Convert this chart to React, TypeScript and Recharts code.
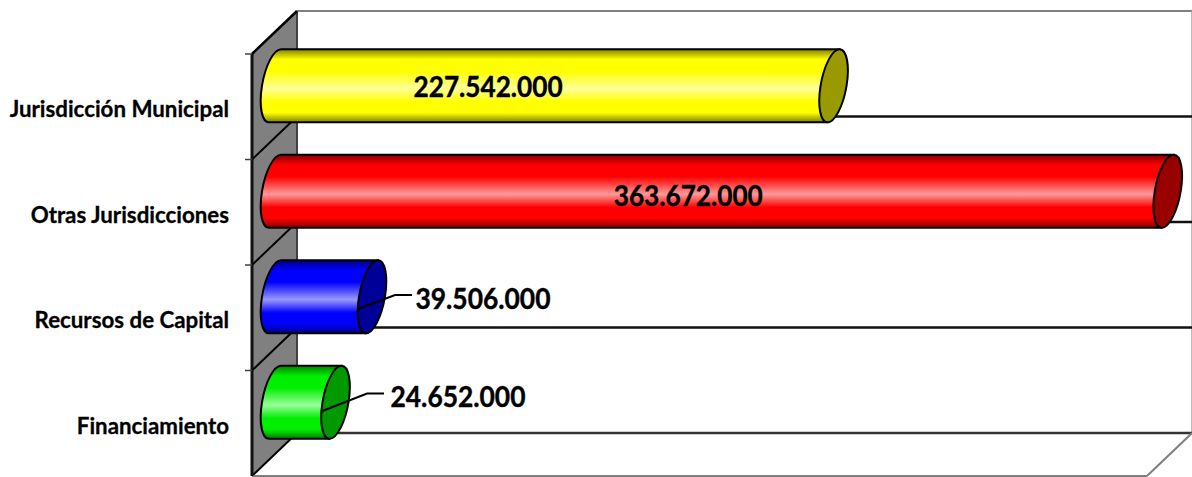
import React from "react";
import { BarChart, Bar, XAxis, YAxis, LabelList } from "recharts";

const CATEGORIES = ["Jurisdicción Municipal", "Otras Jurisdicciones", "Recursos de Capital", "Financiamiento"];
const VALUES = [227542000, 363672000, 39506000, 24652000];
const BASE_COLORS = ["#ffff00", "#ff0000", "#0000ff", "#00ee00"];
const LIGHT_COLORS = ["#ffff99", "#ff9999", "#9999ff", "#99ff99"];
const DARK_COLORS = ["#808000", "#800000", "#000080", "#008000"];
const CAP_COLORS = ["#999900", "#990000", "#000099", "#009900"];

const W = 1192;
const H = 477;
const FONT = "Lato, Carlito, sans-serif";

// mid-depth plane holds the bars, the walls sit half a depth either side
const PLOT = { left: 274.5, top: 32.5, width: 896, height: 422 };
const DX = 22.5;
const DY = 21.5;
const BAR_H = 73;
const CAP_RX = 13;

// where each value text sits, relative to the end of its bar
const LABEL_OFFSETS = [
  [-345, 0.5],
  [-479, 4.5],
  [111.5, 2],
  [123, -6],
];
const LEADERS: (number[][] | null)[] = [
  null,
  null,
  [[-13.5, 13], [23.5, -1], [40.5, -1]],
  [[-14, 10], [32, -8], [49, -8]],
];

const chartData = CATEGORIES.map((name, i) => ({ name, value: VALUES[i] }));

const formatValue = (v: number) => String(v).replace(/\B(?=(\d{3})+$)/g, ".");

function Walls() {
  const fl = PLOT.left - DX;
  const bl = PLOT.left + DX;
  const ft = PLOT.top - DY + DY * 2;
  const fb = PLOT.top + PLOT.height + DY;
  const bt = PLOT.top - DY;
  const bb = PLOT.top + PLOT.height - DY;
  const br = PLOT.left + PLOT.width + DX - 1;
  const fr = PLOT.left + PLOT.width - DX - 1;
  const step = PLOT.height / CATEGORIES.length;
  const rows = CATEGORIES.map((_, i) => i);

  return (
    <g>
      <polygon points={`${fl},${ft} ${bl},${bt} ${bl},${bb} ${fl},${fb}`} fill="#808080" />
      <line x1={bl} y1={bt} x2={bl} y2={bb} stroke="#404040" strokeWidth={2} />
      <line x1={bl} y1={bt} x2={br} y2={bt} stroke="#7f7f7f" strokeWidth={2} />
      <line x1={br} y1={bt} x2={br} y2={bb} stroke="#a6a6a6" strokeWidth={1.5} />
      {rows.slice(1).map((i) => (
        <g key={i}>
          <line x1={bl} y1={bt + i * step} x2={br} y2={bt + i * step} stroke="#111" strokeWidth={2.5} />
          <line x1={fl} y1={ft + i * step} x2={bl} y2={bt + i * step} stroke="#000" strokeWidth={2} />
        </g>
      ))}
      <line x1={bl} y1={bb} x2={br} y2={bb} stroke="#333" strokeWidth={2.5} />
      <line x1={fl} y1={fb} x2={bl} y2={bb} stroke="#000" strokeWidth={2} />
      <line x1={fl} y1={fb} x2={fr} y2={fb} stroke="#7f7f7f" strokeWidth={2} />
      <line x1={fr} y1={fb} x2={br} y2={bb} stroke="#7f7f7f" strokeWidth={2} />
      <line x1={fl} y1={ft} x2={bl} y2={bt} stroke="#000" strokeWidth={2.5} />
      <line x1={fl} y1={ft} x2={fl} y2={fb} stroke="#111" strokeWidth={3} />
      {rows.map((i) => (
        <line key={i} x1={fl - 7} y1={ft + i * step} x2={fl} y2={ft + i * step} stroke="#404040" strokeWidth={1.5} />
      ))}
    </g>
  );
}

function Cylinder(props: any) {
  const { x, y, width, height, index } = props;
  const ry = height / 2;
  return (
    <g transform={`translate(${x + 0.5},${y + ry + 0.75}) skewX(-9.3)`}>
      <path
        d={`M0,${-ry} L${width},${-ry} L${width},${ry} L0,${ry} A${CAP_RX},${ry} 0 0 1 0,${-ry} Z`}
        fill={`url(#cyl${index})`}
        stroke="#000"
        strokeWidth={2}
      />
      <ellipse cx={width} cy={0} rx={CAP_RX} ry={ry} fill={CAP_COLORS[index]} stroke="#000" strokeWidth={2} />
    </g>
  );
}

function ValueLabel(props: any) {
  const { x, y, width, height, index, value } = props;
  const endX = x + width;
  const midY = y + height / 2;
  const leader = LEADERS[index];
  return (
    <g>
      {leader && (
        <polyline
          points={leader.map((p) => `${endX + p[0]},${midY + p[1]}`).join(" ")}
          fill="none"
          stroke="#000"
          strokeWidth={2}
        />
      )}
      <text
        x={endX + LABEL_OFFSETS[index][0]}
        y={midY + LABEL_OFFSETS[index][1]}
        textAnchor="middle"
        dominantBaseline="central"
        fontFamily={FONT}
        fontWeight={700}
        fontSize={28}
        fill="#000"
        stroke="#000"
        strokeWidth={0.4}
        textLength={index < 2 ? 149 : 135}
        lengthAdjust="spacingAndGlyphs"
      >
        {formatValue(value)}
      </text>
    </g>
  );
}

function CategoryTick(props: any) {
  const { x, y, payload } = props;
  return (
    <text
      x={x - 45.5}
      y={y + 23.5}
      textAnchor="end"
      dominantBaseline="central"
      fontFamily={FONT}
      fontWeight={700}
      fontSize={22.3}
      fill="#000"
      stroke="#000"
      strokeWidth={0.3}
    >
      {payload.value}
    </text>
  );
}

export default function App() {
  return (
    <div style={{ position: "absolute", left: 0, top: 0, width: W, height: H, background: "#fff" }}>
      <BarChart
        width={W}
        height={H}
        data={chartData}
        layout="vertical"
        barCategoryGap={0}
        margin={{
          top: PLOT.top,
          left: PLOT.left - 200,
          right: W - PLOT.left - PLOT.width,
          bottom: H - PLOT.top - PLOT.height,
        }}
      >
        <defs>
          {CATEGORIES.map((_, i) => (
            <linearGradient key={i} id={`cyl${i}`} x1="0" y1="0" x2="0" y2="1">
              <stop offset="0" stopColor={DARK_COLORS[i]} />
              <stop offset="0.14" stopColor={BASE_COLORS[i]} />
              <stop offset="0.3" stopColor={BASE_COLORS[i]} />
              <stop offset="0.54" stopColor={LIGHT_COLORS[i]} />
              <stop offset="0.72" stopColor={BASE_COLORS[i]} />
              <stop offset="0.87" stopColor={BASE_COLORS[i]} />
              <stop offset="1" stopColor={DARK_COLORS[i]} />
            </linearGradient>
          ))}
        </defs>
        <Walls />
        <XAxis type="number" hide domain={[0, 365000000]} />
        <YAxis
          type="category"
          dataKey="name"
          width={200}
          axisLine={false}
          tickLine={false}
          tickSize={0}
          tickMargin={0}
          interval={0}
          tick={<CategoryTick />}
        />
        <Bar dataKey="value" barSize={BAR_H} shape={<Cylinder />} isAnimationActive={false}>
          <LabelList dataKey="value" content={<ValueLabel />} />
        </Bar>
      </BarChart>
    </div>
  );
}
